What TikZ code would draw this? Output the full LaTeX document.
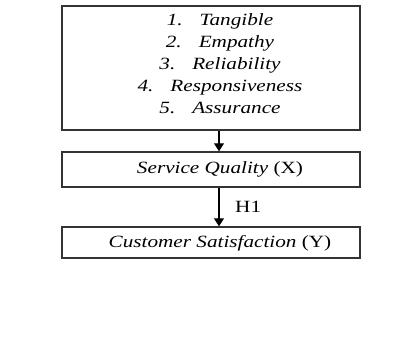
\documentclass[tikz,border=0pt]{standalone}
\usepackage{fontspec}
\usepackage{graphicx}
\setmainfont{Liberation Serif}
\usetikzlibrary{arrows.meta}
% text is set slightly flattened, as in the source figure
\newcommand{\flatten}[1]{\scalebox{1}[0.81]{#1}}
\begin{document}
\begin{tikzpicture}[x=1pt, y=-1pt,
  frame/.style={draw=black!80, line width=1.4pt, rectangle, inner sep=0pt},
  txt/.style={anchor=base, inner sep=0pt, font=\fontsize{21.2}{26}\selectfont},
  link/.style={draw=black, line width=1.1pt, -{Triangle[length=8pt, width=10pt]}},
  tag/.style={anchor=base west, inner sep=0pt, font=\fontsize{21.2}{26}\selectfont}]
  \useasboundingbox (0,0) rectangle (420,360);

  % boxes
  \node[frame, minimum width=298pt, minimum height=124pt] (dims) at (211,68) {};
  \node[frame, minimum width=298pt, minimum height=35pt] (sq) at (211,169.5) {};
  \node[frame, minimum width=298pt, minimum height=31pt] (cs) at (211,242.5) {};

  % dimensions of service quality
  \node[txt] (d1) at (220,25)  {\flatten{\itshape 1.\hspace{0.8em}Tangible}};
  \node[txt] (d2) at (220,47)  {\flatten{\itshape 2.\hspace{0.8em}Empathy}};
  \node[txt] (d3) at (220,69)  {\flatten{\itshape 3.\hspace{0.8em}Reliability}};
  \node[txt] (d4) at (220,91)  {\flatten{\itshape 4.\hspace{0.8em}Responsiveness}};
  \node[txt] (d5) at (220,113) {\flatten{\itshape 5.\hspace{0.8em}Assurance}};

  % variable labels
  \node[txt] (sqt) at (220,173) {\flatten{\textit{Service Quality} (X)}};
  \node[txt] (cst) at (220,247) {\flatten{\textit{Customer Satisfaction} (Y)}};

  % connectors
  \draw[link] (dims.south -| 219,0) -- (sq.north -| 219,0);
  \draw[link] (sq.south -| 219,0) -- (cs.north -| 219,0);
  \node[tag] (h1) at (235,212) {\flatten{H1}};
\end{tikzpicture}
\end{document}
